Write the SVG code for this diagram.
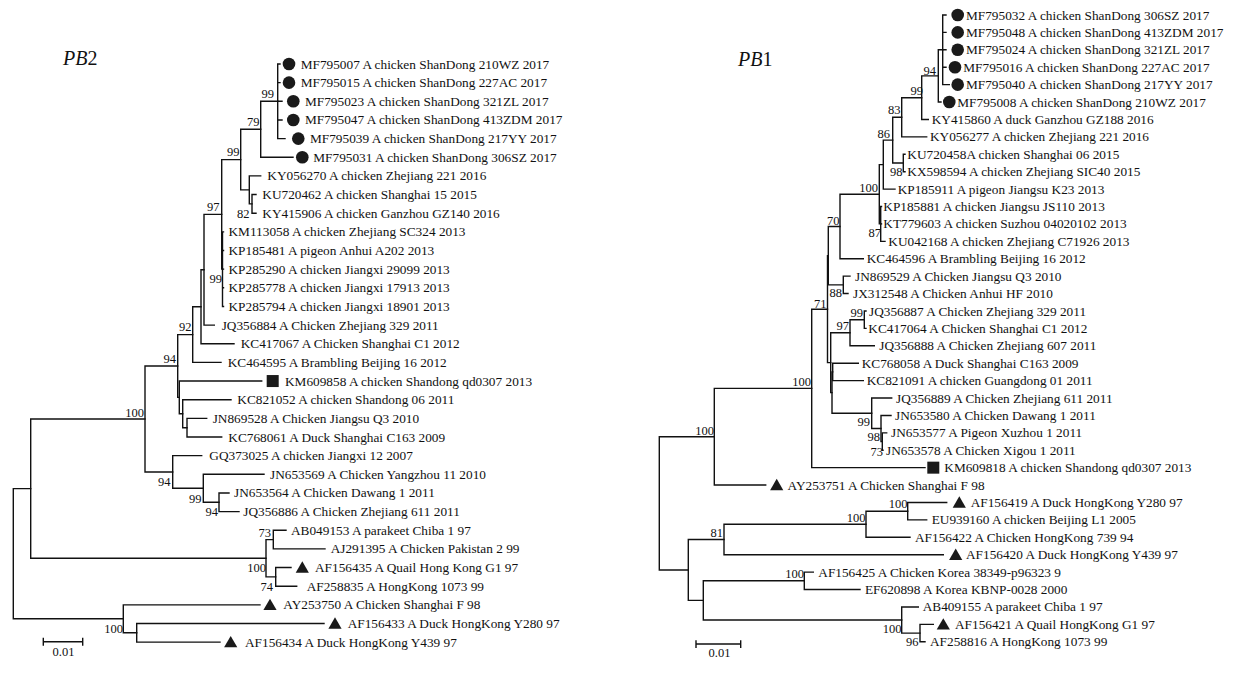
<svg xmlns="http://www.w3.org/2000/svg" xmlns:xlink="http://www.w3.org/1999/xlink" width="1239" height="673" viewBox="0 0 1239 673">
<style>
.br{fill:none;stroke:#111;stroke-width:1.4;stroke-linecap:square}
.lf{font-family:"Liberation Serif","Times New Roman",serif;font-size:13.3px;fill:#111}
.bs{font-family:"Liberation Serif","Times New Roman",serif;font-size:12.5px;fill:#111;text-anchor:end}
.tt{font-family:"Liberation Serif","Times New Roman",serif;font-size:20px;fill:#111}
.mk{fill:#1a1a1a}
</style>
<defs>
<circle id="dot" class="mk" r="6.3"/>
<rect id="sq" class="mk" x="-6" y="-6" width="12" height="12"/>
<path id="tri" class="mk" d="M0,-6.2 L6.6,5.2 L-6.6,5.2 Z"/>
</defs>
<rect width="1239" height="673" fill="#fff"/>

<!-- ===================== PB2 ===================== -->
<g id="pb2">
<text class="tt" x="63" y="65"><tspan font-style="italic">PB</tspan>2</text>
<g id="pb2-connectors" class="br">
<path d="M277.7,64V138.6M277.7,64H280M277.7,82.65H280M277.7,101.3H282M277.7,119.95H282M277.7,138.6H285"/>
<path d="M260.7,101.3V157.25M260.7,101.3H277.7M260.7,157.25H293"/>
<path d="M252,194.55V213.2M252,194.55H256M252,213.2H256"/>
<path d="M249.3,175.9V203.9M249.3,175.9H260.7M249.3,203.9H252"/>
<path d="M240.7,129.3V189.9M240.7,129.3H260.7M240.7,189.9H249.3"/>
<path d="M222.5,231.85V306.45M222.5,231.85H223.5M222.5,250.5H223.5M222.5,269.15H223.5M222.5,287.8H223.5M222.5,306.45H223.5"/>
<path d="M221.7,159.6V269.15M221.7,159.6H240.7M221.7,269.15H222.5"/>
<path d="M204,214.4V325.1M204,214.4H221.7M204,325.1H214.3"/>
<path d="M201,269.75V343.75M201,269.75H204M201,343.75H234"/>
<path d="M192.7,306.75V362.4M192.7,306.75H201M192.7,362.4H221"/>
<path d="M187,418.35V437M187,418.35H206.7M187,437H221.7"/>
<path d="M182.7,399.7V427.7M182.7,399.7H231M182.7,427.7H187"/>
<path d="M179.3,381.05V413.7M179.3,381.05H261.7M179.3,413.7H182.7"/>
<path d="M177.7,334.6V397.4M177.7,334.6H192.7M177.7,397.4H179.3"/>
<path d="M219,492.95V511.6M219,492.95H229M219,511.6H239"/>
<path d="M203.3,474.3V502.3M203.3,474.3H264M203.3,502.3H219"/>
<path d="M172.7,455.65V488.3M172.7,455.65H201.7M172.7,488.3H203.3"/>
<path d="M145,366V472M145,366H177.7M145,472H172.7"/>
<path d="M273.3,530.25V548.9M273.3,530.25H286M273.3,548.9H325"/>
<path d="M275.7,567.55V586.2M275.7,567.55H291M275.7,586.2H296.7"/>
<path d="M266,539.6V576.9M266,539.6H273.3M266,576.9H275.7"/>
<path d="M30.7,419V558.25M30.7,419H145M30.7,558.25H266"/>
<path d="M136.7,623.5V642.15M136.7,623.5H324M136.7,642.15H220"/>
<path d="M123.3,604.85V632.8M123.3,604.85H260M123.3,632.8H136.7"/>
<path d="M13.3,488.6V618.8M13.3,488.6H30.7M13.3,618.8H123.3"/>
</g>
<g id="pb2-bootstrap" class="bs">
<text x="274" y="98">99</text>
<text x="259.5" y="126">79</text>
<text x="239.5" y="156">99</text>
<text x="249.5" y="218">82</text>
<text x="219.5" y="211">97</text>
<text x="222" y="283">99</text>
<text x="191.5" y="331">92</text>
<text x="176" y="363">94</text>
<text x="144" y="416.5">100</text>
<text x="170.5" y="486">94</text>
<text x="201.5" y="503">99</text>
<text x="218" y="516">94</text>
<text x="271" y="537">73</text>
<text x="266" y="571.5">100</text>
<text x="273" y="590.5">74</text>
<text x="123" y="633">100</text>
</g>
<g id="pb2-leaves" class="lf">
<g id="pb2-MF795007"><use xlink:href="#dot" x="289" y="64"/><text x="300.7" y="68.5">MF795007 A chicken ShanDong 210WZ 2017</text></g>
<g id="pb2-MF795015"><use xlink:href="#dot" x="289" y="82.65"/><text x="300.7" y="87.1">MF795015 A chicken ShanDong 227AC 2017</text></g>
<g id="pb2-MF795023"><use xlink:href="#dot" x="293.3" y="101.3"/><text x="305" y="105.8">MF795023 A chicken ShanDong 321ZL 2017</text></g>
<g id="pb2-MF795047"><use xlink:href="#dot" x="293.3" y="119.95"/><text x="305" y="124.4">MF795047 A chicken ShanDong 413ZDM 2017</text></g>
<g id="pb2-MF795039"><use xlink:href="#dot" x="298.3" y="138.6"/><text x="310" y="143.1">MF795039 A chicken ShanDong 217YY 2017</text></g>
<g id="pb2-MF795031"><use xlink:href="#dot" x="302.3" y="157.25"/><text x="313.3" y="161.7">MF795031 A chicken ShanDong 306SZ 2017</text></g>
<g id="pb2-KY056270"><text x="267.3" y="180.4">KY056270 A chicken Zhejiang 221 2016</text></g>
<g id="pb2-KU720462"><text x="262.3" y="199">KU720462 A chicken Shanghai 15 2015</text></g>
<g id="pb2-KY415906"><text x="262.3" y="217.7">KY415906 A chicken Ganzhou GZ140 2016</text></g>
<g id="pb2-KM113058"><text x="228.5" y="236.3">KM113058 A chicken Zhejiang SC324 2013</text></g>
<g id="pb2-KP185481"><text x="228.5" y="255">KP185481 A pigeon Anhui A202 2013</text></g>
<g id="pb2-KP285290"><text x="228.5" y="273.6">KP285290 A chicken Jiangxi 29099 2013</text></g>
<g id="pb2-KP285778"><text x="228.5" y="292.3">KP285778 A chicken Jiangxi 17913 2013</text></g>
<g id="pb2-KP285794"><text x="228.5" y="310.9">KP285794 A chicken Jiangxi 18901 2013</text></g>
<g id="pb2-JQ356884"><text x="221.7" y="329.6">JQ356884 A Chicken Zhejiang 329 2011</text></g>
<g id="pb2-KC417067"><text x="240.7" y="348.2">KC417067 A Chicken Shanghai C1 2012</text></g>
<g id="pb2-KC464595"><text x="227.7" y="366.9">KC464595 A Brambling Beijing 16 2012</text></g>
<g id="pb2-KM609858"><use xlink:href="#sq" x="272.7" y="381.05"/><text x="285" y="385.5">KM609858 A chicken Shandong qd0307 2013</text></g>
<g id="pb2-KC821052"><text x="237.3" y="404.2">KC821052 A chicken Shandong 06 2011</text></g>
<g id="pb2-JN869528"><text x="212.7" y="422.8">JN869528 A Chicken Jiangsu Q3 2010</text></g>
<g id="pb2-KC768061"><text x="228.3" y="441.5">KC768061 A Duck Shanghai C163 2009</text></g>
<g id="pb2-GQ373025"><text x="209.3" y="460.1">GQ373025 A chicken Jiangxi 12 2007</text></g>
<g id="pb2-JN653569"><text x="270" y="478.8">JN653569 A Chicken Yangzhou 11 2010</text></g>
<g id="pb2-JN653564"><text x="234" y="497.4">JN653564 A Chicken Dawang 1 2011</text></g>
<g id="pb2-JQ356886"><text x="243.3" y="516.1">JQ356886 A Chicken Zhejiang 611 2011</text></g>
<g id="pb2-AB049153"><text x="291" y="534.7">AB049153 A parakeet Chiba 1 97</text></g>
<g id="pb2-AJ291395"><text x="330.7" y="553.4">AJ291395 A Chicken Pakistan 2 99</text></g>
<g id="pb2-AF156435"><use xlink:href="#tri" x="302.3" y="567.55"/><text x="315" y="572">AF156435 A Quail Hong Kong G1 97</text></g>
<g id="pb2-AF258835"><text x="306.7" y="590.7">AF258835 A HongKong 1073 99</text></g>
<g id="pb2-AY253750"><use xlink:href="#tri" x="270" y="604.85"/><text x="283.3" y="609.3">AY253750 A Chicken Shanghai F 98</text></g>
<g id="pb2-AF156433"><use xlink:href="#tri" x="335" y="623.5"/><text x="347.7" y="628">AF156433 A Duck HongKong Y280 97</text></g>
<g id="pb2-AF156434"><use xlink:href="#tri" x="230.7" y="642.15"/><text x="245" y="646.6">AF156434 A Duck HongKong Y439 97</text></g>
</g>
<g id="pb2-scale">
<path class="br" d="M43.3,641.7H82.7M43.3,638.5V645M82.7,638.5V645"/>
<text class="bs" x="63.5" y="656" text-anchor="middle" style="text-anchor:middle">0.01</text>
</g>
</g>

<!-- ===================== PB1 ===================== -->
<g id="pb1">
<text class="tt" x="738" y="65.5"><tspan font-style="italic">PB</tspan>1</text>
<g id="pb1-connectors" class="br">
<path d="M942.7,15V84.64M942.7,15H946M942.7,32.41H946M942.7,49.82H946M942.7,67.23H946M942.7,84.64H949.3"/>
<path d="M938.3,49.82V102.05M938.3,49.82H942.7M938.3,102.05H941"/>
<path d="M921.7,75.9V119.46M921.7,75.9H938.3M921.7,119.46H928.3"/>
<path d="M901.7,97.7V136.87M901.7,97.7H921.7M901.7,136.87H926.7"/>
<path d="M903.3,154.28V171.69M903.3,154.28H905M903.3,171.69H905"/>
<path d="M892.7,117.3V163M892.7,117.3H901.7M892.7,163H903.3"/>
<path d="M883.3,140.1V189.1M883.3,140.1H892.7M883.3,189.1H895"/>
<path d="M880.7,206.51V241.33M880.7,206.51H881.5M880.7,223.92H881.5M880.7,241.33H885"/>
<path d="M879.3,164.6V223.9M879.3,164.6H883.3M879.3,223.9H880.7"/>
<path d="M840,194.3V258.74M840,194.3H879.3M840,258.74H863.3"/>
<path d="M843.3,276.15V293.56M843.3,276.15H850M843.3,293.56H848"/>
<path d="M828.3,226.5V284.9M828.3,226.5H840M828.3,284.9H843.3"/>
<path d="M864.3,310.97V328.38M864.3,310.97H866M864.3,328.38H866"/>
<path d="M850,319.7V345.79M850,319.7H864.3M850,345.79H874.3"/>
<path d="M832.7,363.2V380.61M832.7,363.2H858.3M832.7,380.61H863.3"/>
<path d="M882.3,432.84V450.25M882.3,432.84H886.7M882.3,450.25H883"/>
<path d="M881,415.43V441.5M881,415.43H891M881,441.5H882.3"/>
<path d="M871.7,398.02V428.5M871.7,398.02H891.7M871.7,428.5H881"/>
<path d="M832,371.9V413.3M832,371.9H832.7M832,413.3H871.7"/>
<path d="M830.7,332.7V392.6M830.7,332.7H850M830.7,392.6H832"/>
<path d="M827.5,255.7V362.6M827.5,255.7H828.3M827.5,362.6H830.7"/>
<path d="M811.7,309.2V467.66M811.7,309.2H827.5M811.7,467.66H925"/>
<path d="M714.3,388.4V485.07M714.3,388.4H811.7M714.3,485.07H765.7"/>
<path d="M907.7,502.48V519.89M907.7,502.48H946.7M907.7,519.89H926.7"/>
<path d="M866,511.2V537.3M866,511.2H907.7M866,537.3H910"/>
<path d="M724,524.2V554.71M724,524.2H866M724,554.71H943.3"/>
<path d="M804.3,572.12V589.53M804.3,572.12H813.3M804.3,589.53H860"/>
<path d="M920,624.35V641.76M920,624.35H933.3M920,641.76H925"/>
<path d="M901.7,606.94V633.1M901.7,606.94H918.3M901.7,633.1H920"/>
<path d="M703.3,580.8V620M703.3,580.8H804.3M703.3,620H901.7"/>
<path d="M688.3,539.5V600.4M688.3,539.5H724M688.3,600.4H703.3"/>
<path d="M659.3,436.7V570M659.3,436.7H714.3M659.3,570H688.3"/>
</g>
<g id="pb1-bootstrap" class="bs">
<text x="936" y="75">94</text>
<text x="923" y="95">99</text>
<text x="900.5" y="114">83</text>
<text x="890" y="137.5">86</text>
<text x="902.5" y="176">98</text>
<text x="878" y="192">100</text>
<text x="881" y="237">87</text>
<text x="839.5" y="224.5">70</text>
<text x="842" y="297">88</text>
<text x="826.5" y="308">71</text>
<text x="863" y="316.5">99</text>
<text x="849" y="330">97</text>
<text x="811" y="386">100</text>
<text x="870" y="426">99</text>
<text x="880" y="441">98</text>
<text x="883" y="455.5">73</text>
<text x="714" y="435">100</text>
<text x="907.5" y="508">100</text>
<text x="865.5" y="521.5">100</text>
<text x="723" y="537">81</text>
<text x="804" y="578">100</text>
<text x="901.5" y="633">100</text>
<text x="918.5" y="646">96</text>
</g>
<g id="pb1-leaves" class="lf">
<g id="pb1-MF795032"><use xlink:href="#dot" x="957.7" y="15"/><text x="966" y="19.5">MF795032 A chicken ShanDong 306SZ 2017</text></g>
<g id="pb1-MF795048"><use xlink:href="#dot" x="957.7" y="32.41"/><text x="966" y="36.9">MF795048 A chicken ShanDong 413ZDM 2017</text></g>
<g id="pb1-MF795024"><use xlink:href="#dot" x="957.7" y="49.82"/><text x="966" y="54.3">MF795024 A chicken ShanDong 321ZL 2017</text></g>
<g id="pb1-MF795016"><use xlink:href="#dot" x="955" y="67.23"/><text x="963.3" y="71.7">MF795016 A chicken ShanDong 227AC 2017</text></g>
<g id="pb1-MF795040"><use xlink:href="#dot" x="957.7" y="84.64"/><text x="966" y="89.1">MF795040 A chicken ShanDong 217YY 2017</text></g>
<g id="pb1-MF795008"><use xlink:href="#dot" x="949.3" y="102.05"/><text x="957.3" y="106.5">MF795008 A chicken ShanDong 210WZ 2017</text></g>
<g id="pb1-KY415860"><text x="931.7" y="124">KY415860 A duck Ganzhou GZ188 2016</text></g>
<g id="pb1-KY056277"><text x="930" y="141.4">KY056277 A chicken Zhejiang 221 2016</text></g>
<g id="pb1-KU720458"><text x="907.3" y="158.8">KU720458A chicken Shanghai 06 2015</text></g>
<g id="pb1-KX598594"><text x="907.3" y="176.2">KX598594 A chicken Zhejiang SIC40 2015</text></g>
<g id="pb1-KP185911"><text x="897.7" y="193.6">KP185911 A pigeon Jiangsu K23 2013</text></g>
<g id="pb1-KP185881"><text x="883.3" y="211">KP185881 A chicken Jiangsu JS110 2013</text></g>
<g id="pb1-KT779603"><text x="883.3" y="228.4">KT779603 A chicken Suzhou 04020102 2013</text></g>
<g id="pb1-KU042168"><text x="888.3" y="245.8">KU042168 A chicken Zhejiang C71926 2013</text></g>
<g id="pb1-KC464596"><text x="866.7" y="263.2">KC464596 A Brambling Beijing 16 2012</text></g>
<g id="pb1-JN869529"><text x="855" y="280.6">JN869529 A Chicken Jiangsu Q3 2010</text></g>
<g id="pb1-JX312548"><text x="853" y="298.1">JX312548 A Chicken Anhui HF 2010</text></g>
<g id="pb1-JQ356887"><text x="869" y="315.5">JQ356887 A Chicken Zhejiang 329 2011</text></g>
<g id="pb1-KC417064"><text x="868.3" y="332.9">KC417064 A Chicken Shanghai C1 2012</text></g>
<g id="pb1-JQ356888"><text x="879.3" y="350.3">JQ356888 A Chicken Zhejiang 607 2011</text></g>
<g id="pb1-KC768058"><text x="861.7" y="367.7">KC768058 A Duck Shanghai C163 2009</text></g>
<g id="pb1-KC821091"><text x="866.7" y="385.1">KC821091 A chicken Guangdong 01 2011</text></g>
<g id="pb1-JQ356889"><text x="896" y="402.5">JQ356889 A Chicken Zhejiang 611 2011</text></g>
<g id="pb1-JN653580"><text x="895" y="419.9">JN653580 A Chicken Dawang 1 2011</text></g>
<g id="pb1-JN653577"><text x="891" y="437.3">JN653577 A Pigeon Xuzhou 1 2011</text></g>
<g id="pb1-JN653578"><text x="886" y="454.8">JN653578 A Chicken Xigou 1 2011</text></g>
<g id="pb1-KM609818"><use xlink:href="#sq" x="933.3" y="467.66"/><text x="944.3" y="472.2">KM609818 A chicken Shandong qd0307 2013</text></g>
<g id="pb1-AY253751"><use xlink:href="#tri" x="776.7" y="485.07"/><text x="787.5" y="489.6">AY253751 A Chicken Shanghai F 98</text></g>
<g id="pb1-AF156419"><use xlink:href="#tri" x="959.3" y="502.48"/><text x="970.7" y="507">AF156419 A Duck HongKong Y280 97</text></g>
<g id="pb1-EU939160"><text x="931.7" y="524.4">EU939160 A chicken Beijing L1 2005</text></g>
<g id="pb1-AF156422"><text x="915" y="541.8">AF156422 A Chicken HongKong 739 94</text></g>
<g id="pb1-AF156420"><use xlink:href="#tri" x="955.7" y="554.71"/><text x="966" y="559.2">AF156420 A Duck HongKong Y439 97</text></g>
<g id="pb1-AF156425"><text x="818.3" y="576.6">AF156425 A Chicken Korea 38349-p96323 9</text></g>
<g id="pb1-EF620898"><text x="865" y="594">EF620898 A Korea KBNP-0028 2000</text></g>
<g id="pb1-AB409155"><text x="922.7" y="611.4">AB409155 A parakeet Chiba 1 97</text></g>
<g id="pb1-AF156421"><use xlink:href="#tri" x="943.3" y="624.35"/><text x="955" y="628.9">AF156421 A Quail HongKong G1 97</text></g>
<g id="pb1-AF258816"><text x="930" y="646.3">AF258816 A HongKong 1073 99</text></g>
</g>
<g id="pb1-scale">
<path class="br" d="M696,644H740.7M696,641V647.3M740.7,641V647.3"/>
<text class="bs" x="719.5" y="657" style="text-anchor:middle">0.01</text>
</g>
</g>
</svg>
